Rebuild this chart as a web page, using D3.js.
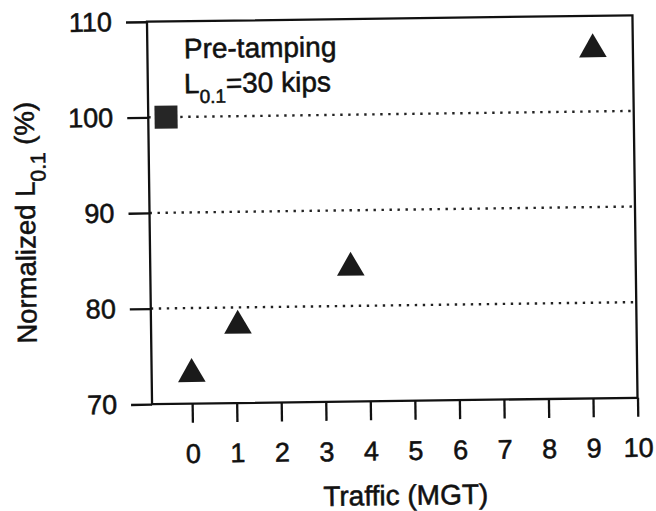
<!DOCTYPE html>
<html>
<head>
<meta charset="utf-8">
<script src="https://cdn.jsdelivr.net/npm/d3@7"></script>
<style>
  html, body { margin: 0; padding: 0; background: #fff; }
  svg { display: block; }
  text { font-family: "Liberation Sans", Arial, Helvetica, sans-serif; fill: #111; stroke: #111; stroke-width: 0.55px; }
</style>
</head>
<body>
<svg id="chart" width="656" height="511"></svg>
<script>
// ---- data ----
const xTicks = [0, 1, 2, 3, 4, 5, 6, 7, 8, 9, 10];
const yTicks = [70, 80, 90, 100, 110];
const gridLevels = [80, 90, 100];
const preX = [-0.5];          // pre-tamping reference (square)
const preY = [100];
const trafficX = [0, 1.05, 3.6, 9.1];   // triangles
const trafficY = [73.1, 78.1, 84.0, 106.5];

const svg = d3.select("#chart");
svg.append("rect").attr("width", 656).attr("height", 511).attr("fill", "#fff");

// slight tilt as in the scanned original
const root = svg.append("g").attr("transform", "rotate(-0.76,392,210)");

const x = d3.scaleLinear().domain([-0.9, 10]).range([149.5, 635]);
const y = d3.scaleLinear().domain([70, 110]).range([401, 18.5]);

// dotted grid lines
root.append("g").selectAll("line").data(gridLevels).join("line")
  .attr("x1", x(-0.9)).attr("x2", x(10))
  .attr("y1", d => y(d)).attr("y2", d => y(d))
  .attr("stroke", "#222").attr("stroke-width", 2.4)
  .attr("stroke-dasharray", "2.4,5.6");

// frame
root.append("rect")
  .attr("x", x(-0.9)).attr("y", y(110))
  .attr("width", x(10) - x(-0.9)).attr("height", y(70) - y(110))
  .attr("fill", "none").attr("stroke", "#111").attr("stroke-width", 2.3);

// axes
const yAxis = root.append("g").attr("transform", `translate(${x(-0.9)},0)`)
  .call(d3.axisLeft(y).tickValues(yTicks).tickSize(21).tickPadding(14).tickSizeOuter(0));
const xAxis = root.append("g").attr("transform", `translate(0,${y(70)})`)
  .call(d3.axisBottom(x).tickValues(xTicks).tickSize(19).tickPadding(21).tickSizeOuter(0));
[yAxis, xAxis].forEach(a => {
  a.select(".domain").remove();
  a.selectAll(".tick line").attr("stroke", "#111").attr("stroke-width", 2.3);
  a.selectAll(".tick text").attr("fill", "#111")
    .style("font-family", '"Liberation Sans", Arial, sans-serif')
    .style("font-size", "27px");
});

// markers
root.append("g").selectAll("path").data(preX.map((d, i) => [d, preY[i]])).join("path")
  .attr("d", d3.symbol(d3.symbolSquare).size(23 * 23))
  .attr("transform", d => `translate(${x(d[0])},${y(d[1])})`)
  .attr("fill", "#262626");

root.append("g").selectAll("path").data(trafficX.map((d, i) => [d, trafficY[i]])).join("path")
  .attr("d", d3.symbol(d3.symbolTriangle).size(330))
  .attr("transform", d => `translate(${x(d[0])},${y(d[1])})`)
  .attr("fill", "#1a1a1a");

// annotation
const ann = root.append("g").style("font-size", "28px");
ann.append("text").attr("x", 186).attr("y", 55.5).text("Pre-tamping");
const t2 = ann.append("text").attr("x", 185.5).attr("y", 90.5);
t2.append("tspan").text("L");
t2.append("tspan").attr("dy", 10).style("font-size", "19px").text("0.1");
t2.append("tspan").attr("dy", -10).text("=30 kips");

// axis titles
root.append("text")
  .attr("x", 402).attr("y", 505)
  .attr("text-anchor", "middle").style("font-size", "28px")
  .text("Traffic (MGT)");

const yt = root.append("text")
  .attr("transform", "translate(35,218) rotate(-90)")
  .attr("text-anchor", "middle").style("font-size", "27.5px");
yt.append("tspan").text("Normalized L");
yt.append("tspan").attr("dy", 11).style("font-size", "21px").text("0.1");
yt.append("tspan").attr("dy", -11).text(" (%)");
</script>
</body>
</html>
